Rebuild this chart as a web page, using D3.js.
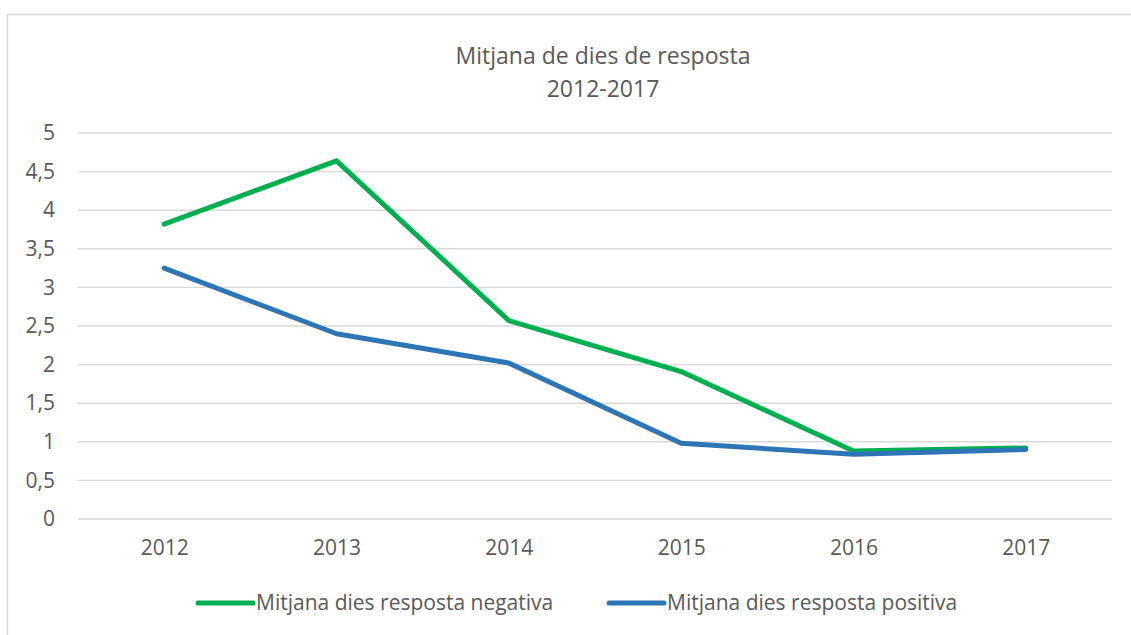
<!DOCTYPE html>
<html>
<head>
<meta charset="utf-8">
<script src="https://cdn.jsdelivr.net/npm/d3@7"></script>
<style>
  html, body { margin: 0; padding: 0; background: #fff; }
  svg text { font-family: "Open Sans", sans-serif; fill: #595959; }
</style>
</head>
<body>
<div id="chart"></div>
<script>
const width = 1131;
const height = 635;

// data
const years = ['2012', '2013', '2014', '2015', '2016', '2017'];
const negativa = [3.82, 4.64, 2.57, 1.91, 0.88, 0.92];
const positiva = [3.25, 2.40, 2.02, 0.98, 0.84, 0.90];
const yTicks = [0, 0.5, 1, 1.5, 2, 2.5, 3, 3.5, 4, 4.5, 5];
const titleLines = ['Mitjana de dies de resposta', '2012-2017'];

const series = [
  { name: 'Mitjana dies resposta negativa', values: negativa, color: '#00b050' },
  { name: 'Mitjana dies resposta positiva', values: positiva, color: '#2e75b6' }
];

const plot = { left: 78, right: 1112, top: 133, bottom: 519 };

const svg = d3.select('#chart').append('svg')
  .attr('width', width)
  .attr('height', height);

// chart frame
svg.append('rect')
  .attr('x', 7.5).attr('y', 14.5)
  .attr('width', 1200).attr('height', 700)
  .attr('fill', 'none')
  .attr('stroke', '#d9d9d9')
  .attr('stroke-width', 1.5);

// title
svg.append('text')
  .attr('text-anchor', 'middle')
  .style('font-size', '23px')
  .selectAll('tspan').data(titleLines)
  .enter().append('tspan')
  .attr('x', 603)
  .attr('y', (d, i) => 64 + i * 33)
  .text(d => d);

const x = d3.scalePoint()
  .domain(years)
  .range([plot.left, plot.right])
  .padding(0.5);

const y = d3.scaleLinear()
  .domain([0, 5])
  .range([plot.bottom, plot.top]);

// gridlines
svg.append('g')
  .selectAll('line').data(yTicks)
  .enter().append('line')
  .attr('x1', plot.left).attr('x2', plot.right)
  .attr('y1', d => y(d)).attr('y2', d => y(d))
  .attr('stroke', '#d9d9d9')
  .attr('stroke-width', 1.4);

// y axis labels
const fmt = d => String(d).replace('.', ',');
const yAxis = svg.append('g')
  .attr('transform', `translate(${plot.left - 8},0)`)
  .call(d3.axisLeft(y).tickValues(yTicks).tickFormat(fmt).tickSize(0).tickPadding(15));
yAxis.select('.domain').remove();
yAxis.selectAll('text').style('font-size', '21px').attr('fill', '#595959');

// x axis labels
const xAxis = svg.append('g')
  .attr('transform', `translate(0,${plot.bottom})`)
  .call(d3.axisBottom(x).tickSize(0).tickPadding(21));
xAxis.select('.domain').remove();
xAxis.selectAll('text').style('font-size', '21px').attr('fill', '#595959');

// lines
const line = d3.line()
  .x((d, i) => x(years[i]))
  .y(d => y(d));

svg.append('g')
  .selectAll('path').data(series)
  .enter().append('path')
  .attr('d', d => line(d.values))
  .attr('fill', 'none')
  .attr('stroke', d => d.color)
  .attr('stroke-width', 5)
  .attr('stroke-linejoin', 'round')
  .attr('stroke-linecap', 'round');

// legend
const legendX = [198, 609];
const legend = svg.append('g')
  .selectAll('g').data(series)
  .enter().append('g')
  .attr('transform', (d, i) => `translate(${legendX[i]},603)`);

legend.append('line')
  .attr('x1', 0).attr('x2', 55)
  .attr('stroke', d => d.color)
  .attr('stroke-width', 5)
  .attr('stroke-linecap', 'round');

legend.append('text')
  .attr('x', 58)
  .attr('dy', '0.35em')
  .style('font-size', '21px')
  .text(d => d.name);
</script>
</body>
</html>
